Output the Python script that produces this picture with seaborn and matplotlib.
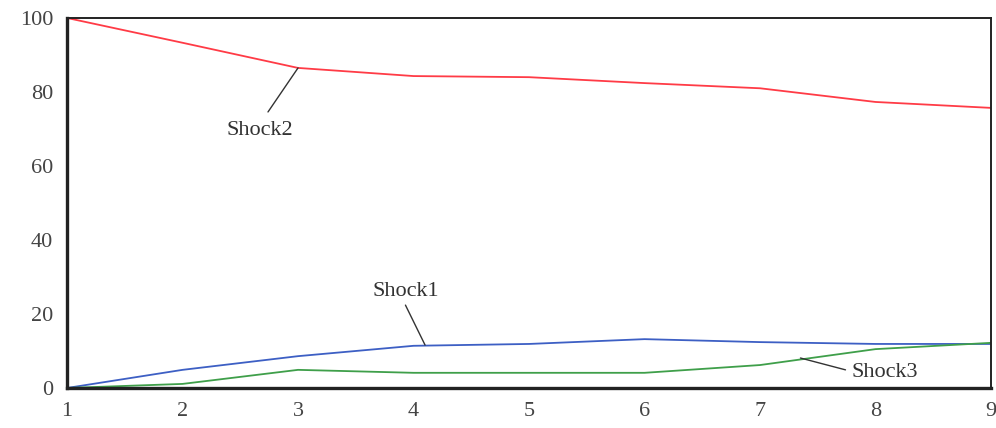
import matplotlib
matplotlib.use("Agg")
import matplotlib.pyplot as plt
import seaborn as sns
import pandas as pd

periods = [1, 2, 3, 4, 5, 6, 7, 8, 9]
shock1 = [0.0, 4.9, 8.6, 11.4, 11.9, 13.2, 12.4, 11.9, 11.9]
shock2 = [100.0, 93.3, 86.5, 84.3, 84.0, 82.4, 81.0, 77.3, 75.7]
shock3 = [0.0, 1.1, 4.9, 4.1, 4.1, 4.1, 6.2, 10.5, 12.2]
series_names = ["Shock1", "Shock2", "Shock3"]
colors = {"Shock1": "#3d5fc4", "Shock2": "#ff3b46", "Shock3": "#3f9f4a"}
yticks = [0, 20, 40, 60, 80, 100]

df = pd.DataFrame({"Period": periods, "Shock1": shock1, "Shock2": shock2, "Shock3": shock3})
long = df.melt(id_vars="Period", value_vars=series_names, var_name="Series", value_name="Value")

sns.set_style("white")
plt.rcParams["font.family"] = ["Liberation Serif", "DejaVu Serif"]

fig = plt.figure(figsize=(9.96, 4.28), dpi=100)
ax = fig.add_axes([0.0673, 0.0935, 0.9277, 0.8645])

sns.lineplot(data=long, x="Period", y="Value", hue="Series", palette=colors,
             linewidth=1.3, legend=False, ax=ax)

ax.set_xlim(1, 9)
ax.set_ylim(0, 100)
ax.set_xticks(periods)
ax.set_yticks(yticks)
ax.set_xlabel("")
ax.set_ylabel("")
ax.tick_params(axis="both", direction="out", length=5, width=1.2, colors="#333333",
               labelsize=16, labelcolor="#444444", pad=5)

for side in ["left", "bottom"]:
    ax.spines[side].set_linewidth(2.4)
    ax.spines[side].set_color("#222222")
for side in ["top", "right"]:
    ax.spines[side].set_linewidth(1.4)
    ax.spines[side].set_color("#222222")

lbl = dict(fontsize=16, color="#333333", ha="center", va="center")
ax.text(2.67, 69.7, "Shock2", **lbl)
ax.annotate("", xy=(3.0, 86.5), xytext=(2.74, 74.6),
            arrowprops=dict(arrowstyle="-", color="#333333", lw=1.0, shrinkA=0, shrinkB=0))
ax.text(3.93, 26.0, "Shock1", **lbl)
ax.annotate("", xy=(4.1, 11.6), xytext=(3.93, 22.4),
            arrowprops=dict(arrowstyle="-", color="#333333", lw=1.0, shrinkA=0, shrinkB=0))
ax.text(8.08, 4.3, "Shock3", **lbl)
ax.annotate("", xy=(7.35, 8.1), xytext=(7.74, 4.9),
            arrowprops=dict(arrowstyle="-", color="#333333", lw=1.0, shrinkA=0, shrinkB=0))

fig.savefig("out.png", dpi=100)
